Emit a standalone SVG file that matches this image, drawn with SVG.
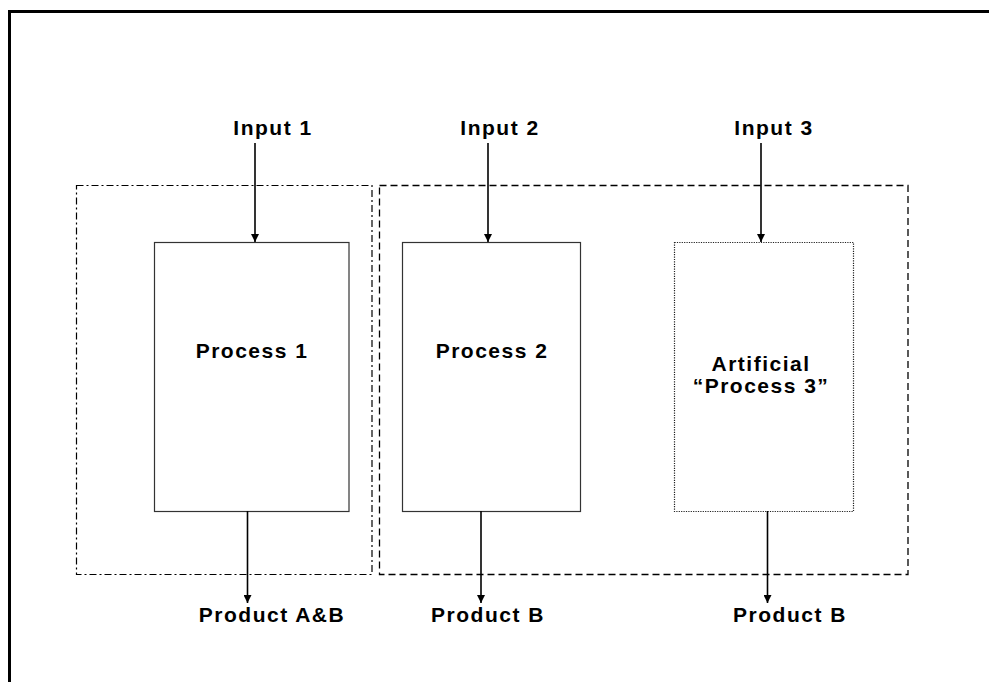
<svg xmlns="http://www.w3.org/2000/svg" width="989" height="682" viewBox="0 0 989 682">
  <style>
    .lbl { font-family: "Liberation Sans", Arial, sans-serif; font-weight: bold; font-size: 21px; letter-spacing: 1.5px; fill: #000; text-anchor: middle; }
    .proc { fill: #fff; stroke: #333; stroke-width: 1.2; }
    .virt { fill: #fff; stroke: #222; stroke-width: 1.2; stroke-dasharray: 1.2 1.2; }
    .grp1 { fill: none; stroke: #000; stroke-width: 1.2; stroke-dasharray: 7 3 2 3; }
    .grp2 { fill: none; stroke: #000; stroke-width: 1.3; stroke-dasharray: 7 4; }
    .flow { stroke: #000; stroke-width: 1.6; fill: none; marker-end: url(#arrow); }
  </style>
  <defs>
    <marker id="arrow" viewBox="0 0 8 8" refX="8" refY="4" markerWidth="8" markerHeight="8" markerUnits="userSpaceOnUse" orient="auto">
      <path d="M0,0 L8,4 L0,8 Z" fill="#000"/>
    </marker>
  </defs>

  <rect width="989" height="682" fill="#fff"/>
  <!-- page frame -->
  <rect x="9.5" y="11.5" width="990" height="700" fill="none" stroke="#000" stroke-width="3"/>

  <!-- grouping boundaries -->
  <g id="group-left">
    <rect class="grp1" x="76.5" y="185.5" width="295.5" height="389"/>
  </g>
  <g id="group-right">
    <rect class="grp2" x="379.5" y="185.5" width="528.5" height="389"/>
  </g>

  <!-- process nodes -->
  <g id="process1">
    <rect class="proc" x="154.5" y="242.5" width="194.5" height="269"/>
    <text class="lbl" x="252" y="358">Process 1</text>
  </g>
  <g id="process2">
    <rect class="proc" x="402.5" y="242.5" width="178" height="269"/>
    <text class="lbl" x="492" y="358">Process 2</text>
  </g>
  <g id="process3">
    <rect class="virt" x="674.5" y="242.5" width="179" height="269"/>
    <text class="lbl" x="761" y="371">Artificial</text>
    <text class="lbl" x="761" y="393">“Process 3”</text>
  </g>

  <!-- inputs -->
  <g id="input1"><text class="lbl" x="273" y="135">Input 1</text></g>
  <g id="input2"><text class="lbl" x="500" y="135">Input 2</text></g>
  <g id="input3"><text class="lbl" x="774" y="135">Input 3</text></g>

  <!-- outputs -->
  <g id="output1"><text class="lbl" x="272" y="622">Product A&amp;B</text></g>
  <g id="output2"><text class="lbl" x="488" y="622">Product B</text></g>
  <g id="output3"><text class="lbl" x="790" y="622">Product B</text></g>

  <!-- connectors -->
  <g id="connectors">
    <line class="flow" x1="255" y1="143" x2="255" y2="242"/>
    <line class="flow" x1="488" y1="143" x2="488" y2="242"/>
    <line class="flow" x1="761" y1="143" x2="761" y2="242"/>
    <line class="flow" x1="247.5" y1="511" x2="247.5" y2="603"/>
    <line class="flow" x1="481" y1="511" x2="481" y2="603"/>
    <line class="flow" x1="767.5" y1="511" x2="767.5" y2="603"/>
  </g>
</svg>
